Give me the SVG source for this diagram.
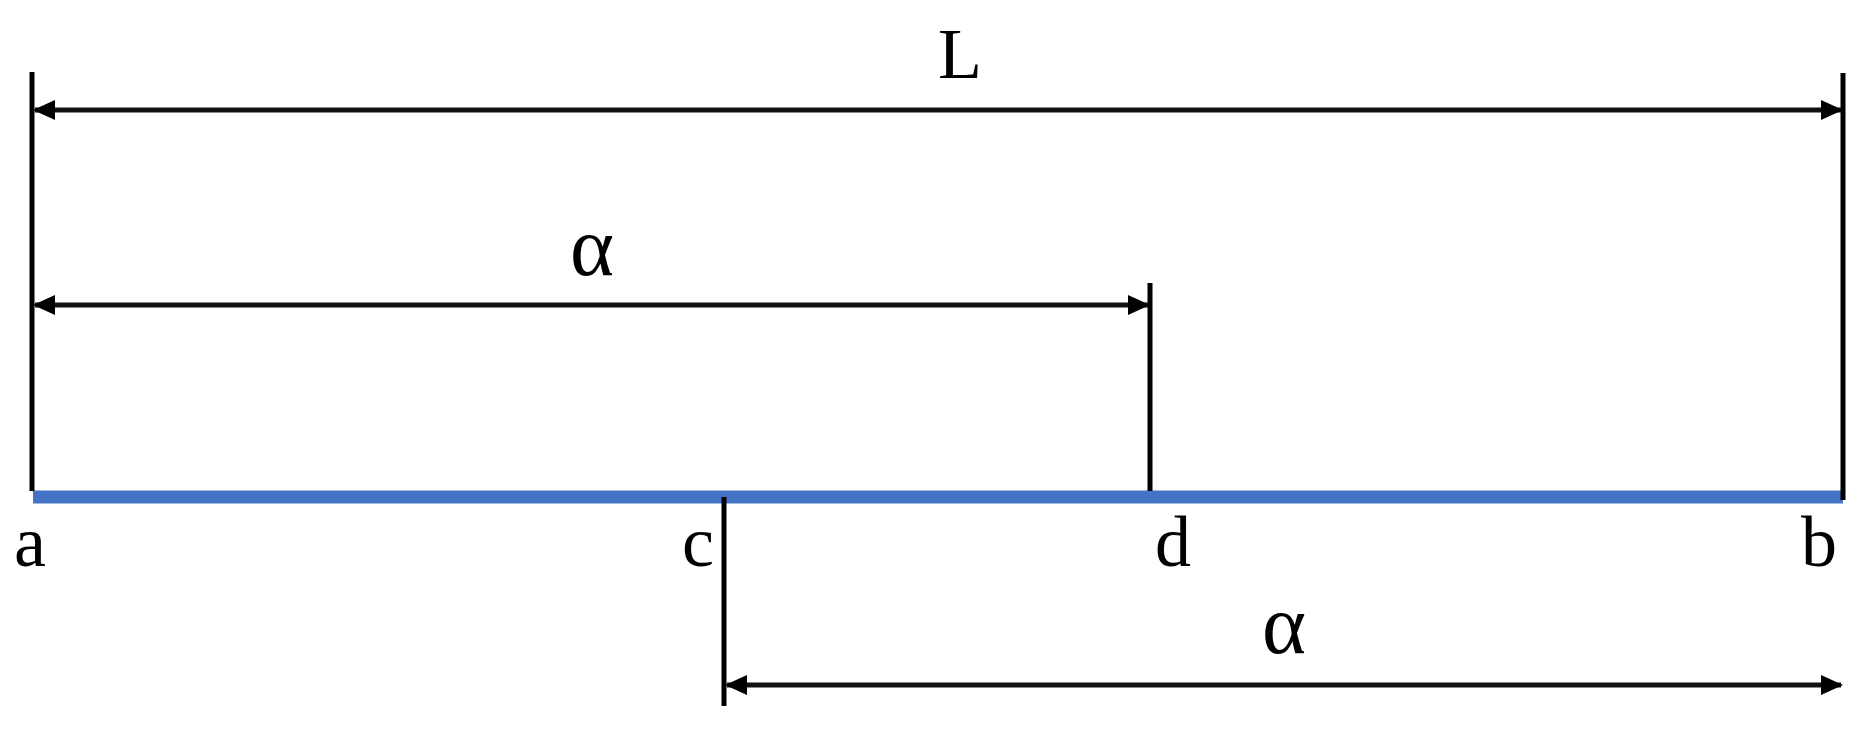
<svg xmlns="http://www.w3.org/2000/svg" width="1867" height="734" viewBox="0 0 1867 734">
<style>
.ln{stroke:#000;stroke-width:5;fill:none}
.dim{stroke:#111;stroke-width:5;fill:none;marker-start:url(#ah);marker-end:url(#ah)}
.lbl{font-family:"Liberation Serif","Times New Roman",serif;font-size:72px;fill:#000;text-anchor:middle}
.gr{font-family:"Liberation Serif","Times New Roman",serif;font-size:84px;fill:#000;text-anchor:middle}
</style>
<defs>
<marker id="ah" markerUnits="userSpaceOnUse" markerWidth="22" markerHeight="20" refX="20" refY="10" orient="auto-start-reverse">
<path d="M0,0 L22,10 L0,20 Z" fill="#000"/>
</marker>
</defs>
<rect width="1867" height="734" fill="#fff"/>
<g id="beam">
<line x1="33" y1="497" x2="1843" y2="497" stroke="#4472C4" stroke-width="13"/>
</g>
<g id="connectors">
<line id="left-ext" class="ln" x1="32" y1="72" x2="32" y2="491"/>
<line id="right-ext" class="ln" x1="1843" y1="73" x2="1843" y2="500"/>
<line id="d-ext" class="ln" x1="1150" y1="283" x2="1150" y2="491"/>
<line id="c-ext" class="ln" x1="724" y1="497" x2="724" y2="706"/>
<line id="dim-L" class="dim" x1="35" y1="110" x2="1841" y2="110"/>
<line id="dim-ad" class="dim" x1="35" y1="305" x2="1148" y2="305"/>
<line id="dim-cb" class="dim" x1="727" y1="685" x2="1841" y2="685"/>
</g>
<g id="label-L"><text class="lbl" x="960" y="78">L</text></g>
<g id="label-alpha-top"><text class="gr" x="592" y="275">α</text></g>
<g id="label-alpha-bottom"><text class="gr" x="1284" y="653">α</text></g>
<g id="label-a"><text class="lbl" x="30" y="566">a</text></g>
<g id="label-c"><text class="lbl" x="698" y="566">c</text></g>
<g id="label-d"><text class="lbl" x="1173" y="566">d</text></g>
<g id="label-b"><text class="lbl" x="1819" y="566">b</text></g>
</svg>
